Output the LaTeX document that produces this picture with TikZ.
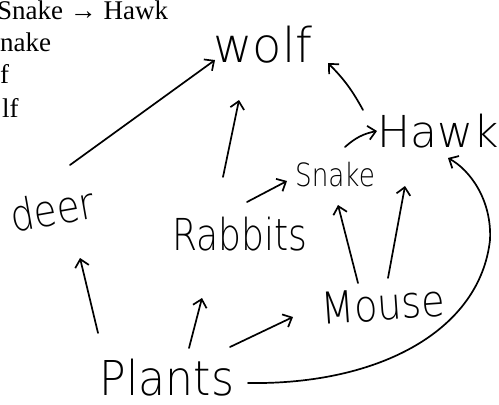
\documentclass[tikz,border=0pt]{standalone}
\usepackage{fontspec}
\newfontfamily\hand{DejaVu Sans ExtraLight}
\newfontfamily\printed{Liberation Serif}
\usetikzlibrary{arrows.meta,calc}
\begin{document}
\begin{tikzpicture}[x=1pt,y=-1pt,
  lab/.style={anchor=base,inner sep=0pt,font=\hand},
  arr/.style={line width=1.7pt,-{Straight Barb[length=7.5pt,width=14pt,line width=1.7pt]},line cap=round,line join=round},
  txt/.style={anchor=base west,inner sep=0pt,font=\printed\fontsize{27}{30}\selectfont}]
\useasboundingbox (0,0) rectangle (499,405);
\clip (0,0) rectangle (499,405);
% printed text (cropped at the left edge)
\node[txt] (t1) at (-3,19) {Snake → Hawk};
\node[txt] (t2) at (0,51) {nake};
\node[txt] (t3) at (0,83) {f};
\node[txt] (t4) at (2,117) {lf};
% handwritten labels
\node[lab] (wolf) at (263,62) {\fontsize{48}{48}\selectfont wolf};
\node[lab] (hawk) at (438,147) {\fontsize{44}{44}\selectfont Hawk};
\node[lab] (snake) at (335,186) {\fontsize{32}{32}\selectfont\scalebox{0.82}[1]{Snake}};
\node[lab,rotate=10] (deer) at (55,225) {\fontsize{44}{44}\selectfont\scalebox{0.85}[1]{deer}};
\node[lab] (rabbits) at (240,250) {\fontsize{44}{44}\selectfont\scalebox{0.82}[1]{Rabbits}};
\node[lab,rotate=4] (mouse) at (384,320) {\fontsize{44}{44}\selectfont\scalebox{0.87}[1]{Mouse}};
\node[lab] (plants) at (167,395) {\fontsize{48}{48}\selectfont\scalebox{0.92}[1]{Plants}};
% connectors
\draw[arr] ([shift={(15,-60)}]deer.base) -- ([shift={(-48,-2)}]wolf.base);
\draw[arr] ([shift={(-17,-73)}]rabbits.base) -- ([shift={(-24,38)}]wolf.base);
\draw[arr] ([shift={(-75,-37)}]hawk.base) to[bend right=8] ([shift={(65,1)}]wolf.base);
\draw[arr] ([shift={(10,-39)}]snake.base) to[bend left=15] ([shift={(-61,-16)}]hawk.base);
\draw[arr] ([shift={(7,-48)}]rabbits.base) -- ([shift={(-48,-5)}]snake.base);
\draw[arr] ([shift={(-26,-37)}]mouse.base) -- ([shift={(3,19)}]snake.base);
\draw[arr] ([shift={(4,-42)}]mouse.base) -- ([shift={(-33,39)}]hawk.base);
\draw[arr] ([shift={(-69,-62)}]plants.base) -- ([shift={(25,33)}]deer.base);
\draw[arr] ([shift={(22,-47)}]plants.base) -- ([shift={(-38,48)}]rabbits.base);
\draw[arr] ([shift={(63,-48)}]plants.base) -- ([shift={(-91,-3)}]mouse.base);
\draw[arr] ([shift={(81,-12)}]plants.base) .. controls (380,385) and (480,330) .. (490,240)
  .. controls (492,200) and (470,170) .. ([shift={(10,11)}]hawk.base);
\end{tikzpicture}
\end{document}
